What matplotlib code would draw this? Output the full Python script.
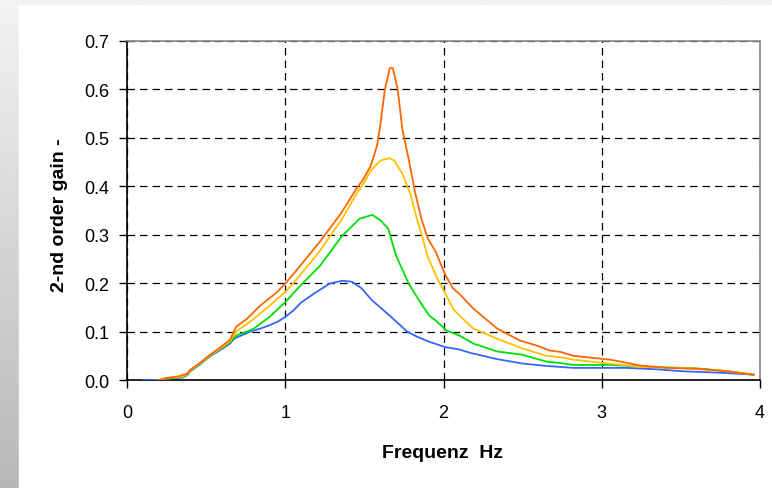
import numpy as np
import matplotlib
matplotlib.use("Agg")
import matplotlib.pyplot as plt
from matplotlib.patches import Rectangle

plt.rcParams['font.family'] = ['Liberation Sans', 'DejaVu Sans']

# ---- data ----
x_blue = [0.10, 0.25, 0.27, 0.35, 0.38, 0.40, 0.46, 0.52, 0.58, 0.65, 0.68, 0.73, 0.78, 0.85, 0.90, 0.95, 0.99, 1.05, 1.10, 1.18, 1.28, 1.36, 1.42, 1.48, 1.55, 1.66, 1.77, 1.83, 1.91, 2.01, 2.10, 2.17, 2.34, 2.50, 2.65, 2.74, 2.82, 3.05, 3.16, 3.35, 3.51, 3.75, 3.96]
y_blue = [0.000, 0.000, 0.004, 0.005, 0.010, 0.018, 0.032, 0.048, 0.060, 0.075, 0.086, 0.093, 0.100, 0.107, 0.113, 0.120, 0.128, 0.143, 0.160, 0.178, 0.199, 0.205, 0.203, 0.190, 0.164, 0.133, 0.100, 0.090, 0.079, 0.068, 0.063, 0.056, 0.043, 0.034, 0.029, 0.027, 0.025, 0.025, 0.025, 0.022, 0.018, 0.015, 0.011]

x_green = [0.20, 0.25, 0.35, 0.38, 0.40, 0.46, 0.52, 0.58, 0.65, 0.69, 0.75, 0.80, 0.90, 1.01, 1.09, 1.22, 1.36, 1.47, 1.55, 1.60, 1.65, 1.70, 1.78, 1.85, 1.91, 1.95, 2.02, 2.10, 2.19, 2.34, 2.50, 2.65, 2.74, 2.82, 3.05, 3.12, 3.30, 3.60, 3.80, 3.96]
y_green = [0.000, 0.003, 0.006, 0.011, 0.019, 0.033, 0.049, 0.062, 0.078, 0.092, 0.099, 0.106, 0.130, 0.164, 0.193, 0.236, 0.298, 0.333, 0.341, 0.330, 0.313, 0.257, 0.199, 0.162, 0.133, 0.123, 0.102, 0.092, 0.075, 0.059, 0.052, 0.038, 0.035, 0.031, 0.031, 0.030, 0.027, 0.024, 0.018, 0.011]

x_yellow = [0.20, 0.25, 0.35, 0.38, 0.40, 0.46, 0.52, 0.58, 0.65, 0.69, 0.75, 0.80, 0.90, 1.01, 1.09, 1.22, 1.36, 1.45, 1.49, 1.54, 1.60, 1.66, 1.69, 1.74, 1.79, 1.83, 1.87, 1.90, 1.96, 2.01, 2.06, 2.10, 2.19, 2.34, 2.50, 2.65, 2.74, 2.82, 3.01, 3.26, 3.50, 3.80, 3.96]
y_yellow = [0.000, 0.004, 0.007, 0.012, 0.020, 0.034, 0.050, 0.063, 0.080, 0.100, 0.114, 0.126, 0.153, 0.185, 0.215, 0.267, 0.333, 0.385, 0.403, 0.432, 0.453, 0.458, 0.453, 0.426, 0.385, 0.335, 0.291, 0.255, 0.210, 0.180, 0.147, 0.133, 0.106, 0.085, 0.065, 0.050, 0.047, 0.042, 0.035, 0.027, 0.025, 0.018, 0.011]

x_orange = [0.20, 0.25, 0.33, 0.38, 0.40, 0.46, 0.52, 0.58, 0.65, 0.69, 0.76, 0.84, 0.95, 1.01, 1.07, 1.22, 1.35, 1.45, 1.49, 1.54, 1.58, 1.60, 1.63, 1.65, 1.66, 1.68, 1.71, 1.74, 1.78, 1.82, 1.86, 1.90, 1.95, 2.01, 2.06, 2.10, 2.19, 2.34, 2.48, 2.59, 2.67, 2.74, 2.82, 3.05, 3.12, 3.24, 3.41, 3.62, 3.79, 3.96]
y_orange = [0.000, 0.004, 0.008, 0.013, 0.021, 0.035, 0.051, 0.065, 0.083, 0.110, 0.127, 0.153, 0.182, 0.203, 0.226, 0.286, 0.343, 0.395, 0.413, 0.442, 0.484, 0.525, 0.601, 0.628, 0.644, 0.644, 0.601, 0.518, 0.456, 0.388, 0.333, 0.293, 0.265, 0.218, 0.189, 0.178, 0.147, 0.106, 0.082, 0.071, 0.061, 0.058, 0.050, 0.042, 0.038, 0.030, 0.025, 0.023, 0.018, 0.011]

x_ticks = [0, 1, 2, 3, 4]
y_ticks = [0.0, 0.1, 0.2, 0.3, 0.4, 0.5, 0.6, 0.7]
x_label = 'Frequenz  Hz'
y_label = '2-nd order gain -'

W, H = 772, 489
fig = plt.figure(figsize=(W / 100, H / 100), dpi=100)

# background: gray gradient with a white panel
bg = fig.add_axes([0, 0, 1, 1], zorder=-10)
grad = np.linspace(0.95, 0.72, 256)[:, None] * np.ones((1, 256))
bg.imshow(grad, cmap='gray', vmin=0, vmax=1, aspect='auto', extent=[0, 1, 0, 1])
bg.add_patch(Rectangle((19 / W, 0), 1, 1 - 6 / H, color='white', transform=bg.transAxes))
bg.set_xlim(0, 1); bg.set_ylim(0, 1)
bg.axis('off')

ax = fig.add_axes([127 / W, 1 - 381 / H, (760 - 127) / W, (381 - 42) / H])
ax.set_facecolor('white')

lw = 1.3
ax.plot(x_blue, y_blue, color='#3366FF', lw=lw, zorder=3)
ax.plot(x_green, y_green, color='#00E000', lw=lw, zorder=4)
ax.plot(x_yellow, y_yellow, color='#FFC000', lw=lw, zorder=5)
ax.plot(x_orange, y_orange, color='#FF6600', lw=lw, zorder=6)

ax.set_xlim(0, 4)
ax.set_ylim(0, 0.7)
ax.set_xticks(x_ticks)
ax.set_xticklabels([str(v) for v in x_ticks])
ax.set_yticks(y_ticks)
ax.set_yticklabels([f"{v:.1f}" for v in y_ticks])

ax.grid(True, color='black', linestyle=(0, (6, 4)), linewidth=0.9)
ax.set_axisbelow(True)

for s in ['left', 'bottom']:
    ax.spines[s].set_color('black')
    ax.spines[s].set_linewidth(1.2)
for s in ['top', 'right']:
    ax.spines[s].set_color('#888888')
    ax.spines[s].set_linewidth(1.2)

ax.tick_params(axis='both', direction='out', length=6, width=1, colors='black', labelsize=13)
ax.tick_params(axis='y', pad=7)
ax.tick_params(axis='x', pad=11)

fig.text(443 / W, 1 - 458 / H, x_label, fontsize=14, fontweight='bold',
         ha='center', va='baseline')
fig.text(64 / W, 1 - 215 / H, y_label, fontsize=14, fontweight='bold',
         rotation=90, rotation_mode='anchor', ha='center', va='baseline')

fig.savefig('out.png', dpi=100)
